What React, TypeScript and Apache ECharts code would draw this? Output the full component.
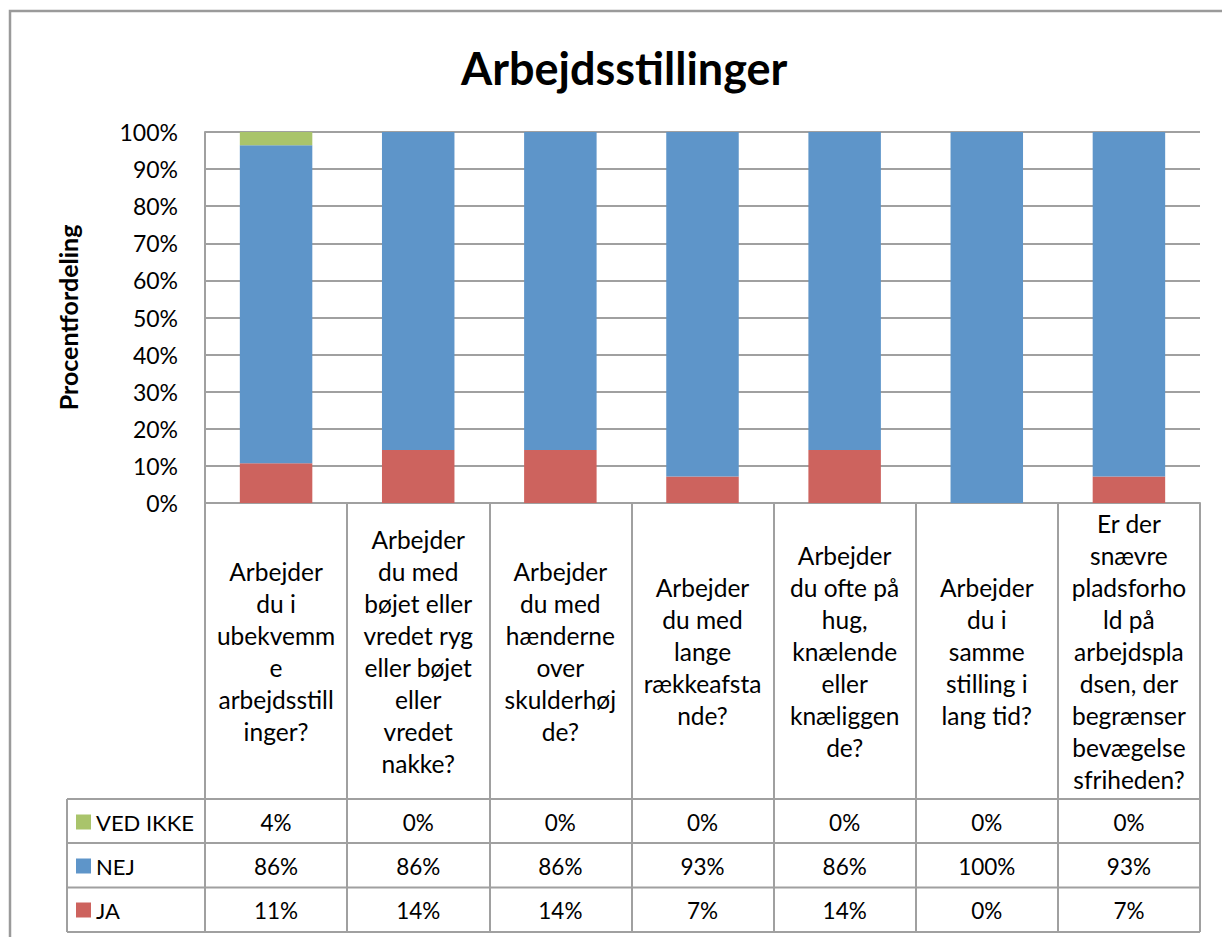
import React, { useEffect, useRef } from "react";
import * as echarts from "echarts";

const categories: string[] = [
  "Arbejder\ndu i\nubekvemm\ne\narbejdsstill\ninger?",
  "Arbejder\ndu med\nbøjet eller\nvredet ryg\neller bøjet\neller\nvredet\nnakke?",
  "Arbejder\ndu med\nhænderne\nover\nskulderhøj\nde?",
  "Arbejder\ndu med\nlange\nrækkeafsta\nnde?",
  "Arbejder\ndu ofte på\nhug,\nknælende\neller\nknæliggen\nde?",
  "Arbejder\ndu i\nsamme\nstilling i\nlang tid?",
  "Er der\nsnævre\npladsforho\nld på\narbejdspla\ndsen, der\nbegrænser\nbevægelse\nsfriheden?",
];
const vedIkke: number[] = [3.57, 0, 0, 0, 0, 0, 0];
const nej: number[] = [85.71, 85.71, 85.71, 92.86, 85.71, 100, 92.86];
const ja: number[] = [10.71, 14.29, 14.29, 7.14, 14.29, 0, 7.14];
const yTicks: number[] = [0, 10, 20, 30, 40, 50, 60, 70, 80, 90, 100];

const FONT = "Lato, 'Open Sans', sans-serif";
const GRAY = "#A0A0A0";
const COLORS = { ved: "#A9C46B", nej: "#5E95C9", ja: "#CD635E" };

export default function App() {
  const ref = useRef<HTMLDivElement>(null);
  useEffect(() => {
    if (!ref.current) return;
    const chart = echarts.init(ref.current, null, { renderer: "svg" });
    const gridLeft = 205;
    const gridRight = 1200;
    const gridTop = 132;
    const gridBottom = 503;
    const rowLines = [799, 843, 887.5, 932];
    const rowCenters = [822, 866, 910];
    const fmt = (v: number) => `${Math.round(v)}%`;
    const rowAxis = (vals: number[], i: number) => ({
      type: "category",
      position: "bottom",
      data: vals.map(fmt),
      axisLine: { show: false },
      axisTick: { show: false },
      splitLine: { show: false },
      axisLabel: {
        interval: 0,
        margin: rowCenters[i] - gridBottom,
        verticalAlign: "middle",
        fontFamily: FONT,
        fontSize: 22.5,
        color: "#000",
      },
    });
    const lineStyle = { stroke: GRAY, lineWidth: 2 };
    const graphics: any[] = [
      {
        type: "rect",
        shape: { x: 10, y: 11, width: 1400, height: 1200 },
        style: { fill: "none", stroke: "#9A9A9A", lineWidth: 2.5 },
        silent: true,
      },
      ...rowLines.map((y) => ({
        type: "line",
        shape: { x1: 67, y1: y, x2: gridRight, y2: y },
        style: lineStyle,
      })),
      {
        type: "line",
        shape: { x1: 67, y1: rowLines[0], x2: 67, y2: rowLines[3] },
        style: lineStyle,
      },
    ];
    chart.setOption({
      animation: false,
      backgroundColor: "#fff",
      title: {
        text: "Arbejdsstillinger",
        left: 461,
        top: 45,
        padding: 0,
        textStyle: { fontFamily: FONT, fontWeight: "bold", fontSize: 45, color: "#000" },
      },
      legend: {
        data: ["VED IKKE", "NEJ", "JA"],
        orient: "vertical",
        left: 71,
        top: rowCenters[0] - 18,
        padding: 5,
        itemWidth: 15,
        itemHeight: 15,
        itemGap: 18,
        icon: "rect",
        textStyle: {
          fontFamily: FONT,
          fontSize: 22,
          lineHeight: 26,
          color: "#000",
        },
      },
      grid: {
        left: gridLeft,
        right: 1222 - gridRight,
        top: gridTop,
        bottom: 937 - gridBottom,
        containLabel: false,
      },
      xAxis: [
        {
          type: "category",
          data: categories,
          axisLine: { show: true, lineStyle: { color: GRAY, width: 2 } },
          axisTick: {
            show: true,
            interval: 0,
            length: rowLines[3] - gridBottom,
            lineStyle: { color: GRAY, width: 2 },
          },
          axisLabel: {
            interval: 0,
            margin: (rowLines[0] - gridBottom) / 2,
            verticalAlign: "middle",
            lineHeight: 32,
            fontFamily: FONT,
            fontSize: 24.5,
            color: "#000",
          },
        },
        rowAxis(vedIkke, 0),
        rowAxis(nej, 1),
        rowAxis(ja, 2),
      ],
      yAxis: {
        type: "value",
        min: yTicks[0],
        max: yTicks[yTicks.length - 1],
        interval: 10,
        name: "Procentfordeling",
        nameLocation: "middle",
        nameGap: 125,
        nameTextStyle: { fontFamily: FONT, fontWeight: "bold", fontSize: 25, color: "#000" },
        axisLine: { show: true, lineStyle: { color: GRAY, width: 2 } },
        axisTick: { show: false },
        splitLine: { show: true, lineStyle: { color: GRAY, width: 2 } },
        axisLabel: {
          formatter: "{value}%",
          margin: 27,
          fontFamily: FONT,
          fontSize: 23,
          color: "#000",
        },
      },
      series: [
        { name: "JA", type: "bar", stack: "total", data: ja, barWidth: "51%", itemStyle: { color: COLORS.ja } },
        { name: "NEJ", type: "bar", stack: "total", data: nej, barWidth: "51%", itemStyle: { color: COLORS.nej } },
        { name: "VED IKKE", type: "bar", stack: "total", data: vedIkke, barWidth: "51%", itemStyle: { color: COLORS.ved } },
      ],
      graphic: graphics,
    });
    return () => chart.dispose();
  }, []);
  return (
    <div
      ref={ref}
      style={{ position: "fixed", left: 0, top: 0, width: 1222, height: 937 }}
    />
  );
}
